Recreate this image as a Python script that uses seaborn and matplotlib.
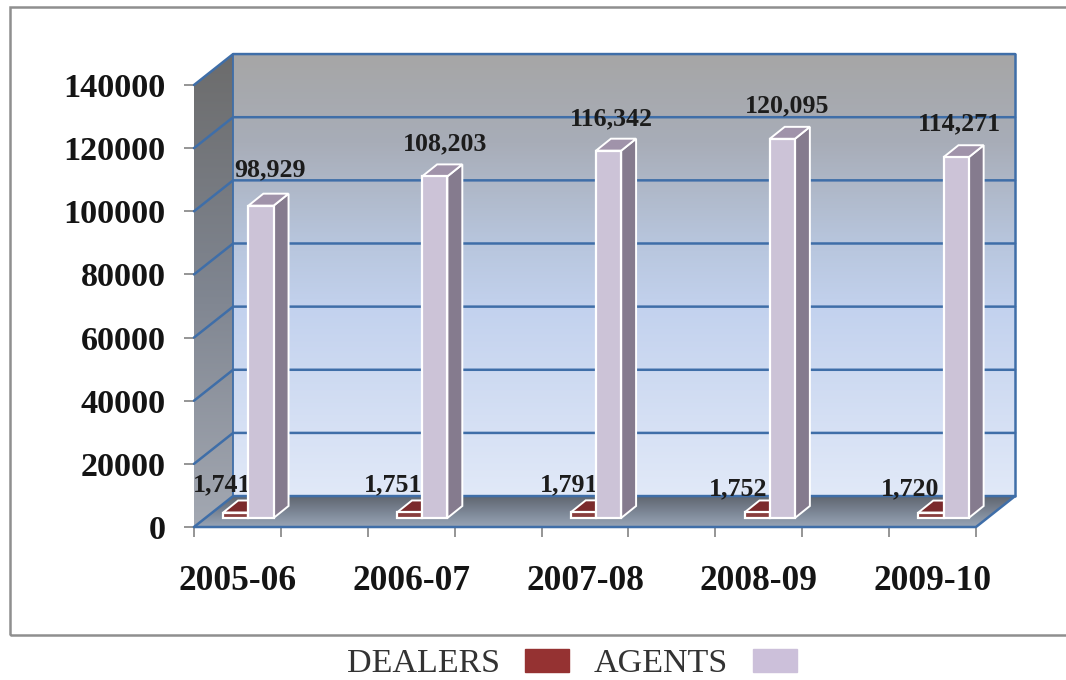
import matplotlib
matplotlib.use('Agg')
import matplotlib.pyplot as plt
from matplotlib.colors import LinearSegmentedColormap
from matplotlib.patches import Patch, Polygon, Rectangle
import seaborn as sns
import pandas as pd
import numpy as np

years = ['2005-06', '2006-07', '2007-08', '2008-09', '2009-10']
dealers = [1741, 1751, 1791, 1752, 1720]
agents = [98929, 108203, 116342, 120095, 114271]
series_names = ['DEALERS', 'AGENTS']
y_ticks = [0, 20000, 40000, 60000, 80000, 100000, 120000, 140000]

# label nudges in pixels, the source labels were placed by hand
dealer_label_off = [(-15, 37), (-18, 37), (-16, 37), (-21, 33), (-22, 33)]
agent_label_off = [(33, 45), (34, 42), (26, 41), (28, 42), (27, 42)]

# fake 3d depth, in data units
WALL_DX, WALL_DY = 0.225, 9800
BAR_SHIFT_X, BAR_SHIFT_Y = 0.063, 2850
BAR_DX, BAR_DY = 0.086, 3800
X0, X1 = -0.25, 4.25
Y_MAX = 140000

GRID = '#3f6ea8'
TICK = '#8c8c8c'

sns.set_theme(style='white')
plt.rcParams['font.family'] = ['Liberation Serif', 'DejaVu Serif']

df = pd.DataFrame({
    'year': years * 2,
    'series': [series_names[0]] * 5 + [series_names[1]] * 5,
    'value': dealers + agents,
})

W, H = 1066, 680
fig = plt.figure(figsize=(W / 100, H / 100), dpi=100, facecolor='white')
ax = fig.add_axes([194 / W, 1 - 527 / H, 782 / W, 442 / H])

sns.barplot(data=df, x='year', y='value', hue='series', hue_order=series_names,
            palette=['#953232', '#ccc0da'], width=0.29, gap=0, dodge=True,
            edgecolor='white', linewidth=1.6, legend=False, ax=ax, zorder=6)


def gradient_face(corners, stops, zorder):
    cmap = LinearSegmentedColormap.from_list('face', stops)
    xs = [c[0] for c in corners]
    ys = [c[1] for c in corners]
    img = ax.imshow(np.linspace(0, 1, 256).reshape(-1, 1), cmap=cmap, aspect='auto',
                    extent=(min(xs), max(xs), min(ys), max(ys)), zorder=zorder)
    # the walls stick out of the axes box, so only the polygon may clip them
    img.set_clip_box(fig.bbox)
    img.set_clip_path(Polygon(corners, closed=True, transform=ax.transData))


# back wall, side wall, floor
gradient_face([(X0 + WALL_DX, WALL_DY), (X1 + WALL_DX, WALL_DY),
               (X1 + WALL_DX, Y_MAX + WALL_DY), (X0 + WALL_DX, Y_MAX + WALL_DY)],
              [(0, '#a6a6a6'), (0.2, '#a8adb8'), (0.42, '#b7c5dc'), (0.58, '#c3d2ee'), (1, '#e1e9f8')], 1)
gradient_face([(X0, 0), (X0 + WALL_DX, WALL_DY), (X0 + WALL_DX, Y_MAX + WALL_DY), (X0, Y_MAX)],
              [(0, '#6c6c6c'), (0.5, '#7f8590'), (1, '#a3a8b2')], 1)
gradient_face([(X0, 0), (X1, 0), (X1 + WALL_DX, WALL_DY), (X0 + WALL_DX, WALL_DY)],
              [(0, '#5f656f'), (0.5, '#7b8594'), (1, '#98a4b6')], 1)

# grid runs along the back wall and down the side wall
for v in y_ticks:
    ax.plot([X0, X0 + WALL_DX, X1 + WALL_DX], [v, v + WALL_DY, v + WALL_DY],
            color=GRID, lw=1.8, zorder=2, clip_on=False, solid_joinstyle='round')
ax.plot([X0 + WALL_DX, X0 + WALL_DX], [WALL_DY, Y_MAX + WALL_DY], color=GRID, lw=1.3, zorder=2, clip_on=False)
ax.plot([X1 + WALL_DX, X1 + WALL_DX], [WALL_DY, Y_MAX + WALL_DY], color=GRID, lw=1.8, zorder=2, clip_on=False)
ax.plot([X0, X1, X1 + WALL_DX], [0, 0, WALL_DY], color=GRID, lw=1.8, zorder=2, clip_on=False)

# move the flat seaborn bars back on the floor and give them sides and tops
face_cols = [('#8a8093', '#7b2a2c'), ('#857b8e', '#a093aa')]
for i, bars in enumerate(ax.containers):
    side_col, top_col = face_cols[i]
    z = 4 if i == 0 else 6
    for rect in bars:
        rect.set_x(rect.get_x() + BAR_SHIFT_X)
        rect.set_y(rect.get_y() + BAR_SHIFT_Y)
        rect.set_zorder(z)
        rect.set_clip_on(False)
        x, y, w, h = rect.get_x(), rect.get_y(), rect.get_width(), rect.get_height()
        ax.add_patch(Polygon([(x + w, y), (x + w + BAR_DX, y + BAR_DY),
                              (x + w + BAR_DX, y + h + BAR_DY), (x + w, y + h)],
                             closed=True, facecolor=side_col, edgecolor='white', lw=1.4,
                             zorder=z - 0.5, clip_on=False))
        ax.add_patch(Polygon([(x, y + h), (x + w, y + h),
                              (x + w + BAR_DX, y + h + BAR_DY), (x + BAR_DX, y + h + BAR_DY)],
                             closed=True, facecolor=top_col, edgecolor='white', lw=1.4,
                             zorder=z - 0.5, clip_on=False))

for i in range(len(years)):
    ax.annotate(f'{dealers[i]:,}', (i, dealers[i]), xytext=dealer_label_off[i], textcoords='offset pixels',
                ha='center', va='center', fontsize=18.6, fontweight='bold', color='#1c1c1c', zorder=5)
    ax.annotate(f'{agents[i]:,}', (i, agents[i]), xytext=agent_label_off[i], textcoords='offset pixels',
                ha='center', va='center', fontsize=18.6, fontweight='bold', color='#1c1c1c', zorder=7)

ax.set_xlim(X0, X1)
ax.set_ylim(0, Y_MAX)
ax.set_xlabel('')
ax.set_ylabel('')
ax.set_yticks(y_ticks)
ax.set_xticks(range(len(years)))
ax.set_xticklabels(years)
ax.set_xticks(np.arange(X0, X1 + 0.01, 0.5), minor=True)
ax.tick_params(axis='x', which='minor', length=7.5, width=1.3, color=TICK, bottom=True)
ax.tick_params(axis='x', which='major', length=0, pad=27, labelsize=25.5)
ax.tick_params(axis='y', length=7.5, width=1.3, color=TICK, left=True, pad=13, labelsize=24.6)
for lab in ax.get_xticklabels() + ax.get_yticklabels():
    lab.set_fontweight('bold')
    lab.set_color('#141414')
ax.patch.set_visible(False)
sns.despine(ax=ax, left=True, bottom=True)

# outer box runs off the right edge like the cropped source
fig.add_artist(Rectangle((10 / W, 1 - 635 / H), 1.05, 628 / H, transform=fig.transFigure,
                         facecolor='none', edgecolor='#8f8f8f', lw=1.8))

handles = [Patch(facecolor='#953232', edgecolor='#953232'), Patch(facecolor='#ccc0da', edgecolor='#ccc0da')]
fig.legend(handles, series_names, ncol=2, markerfirst=False, frameon=False, loc='center',
           bbox_to_anchor=(572 / W, 1 - 664 / H), fontsize=24.5, labelcolor='#333333',
           handlelength=1.3, handleheight=0.65, handletextpad=0.75, columnspacing=0.7,
           borderpad=0, borderaxespad=0)

fig.savefig('out.png', dpi=100)
